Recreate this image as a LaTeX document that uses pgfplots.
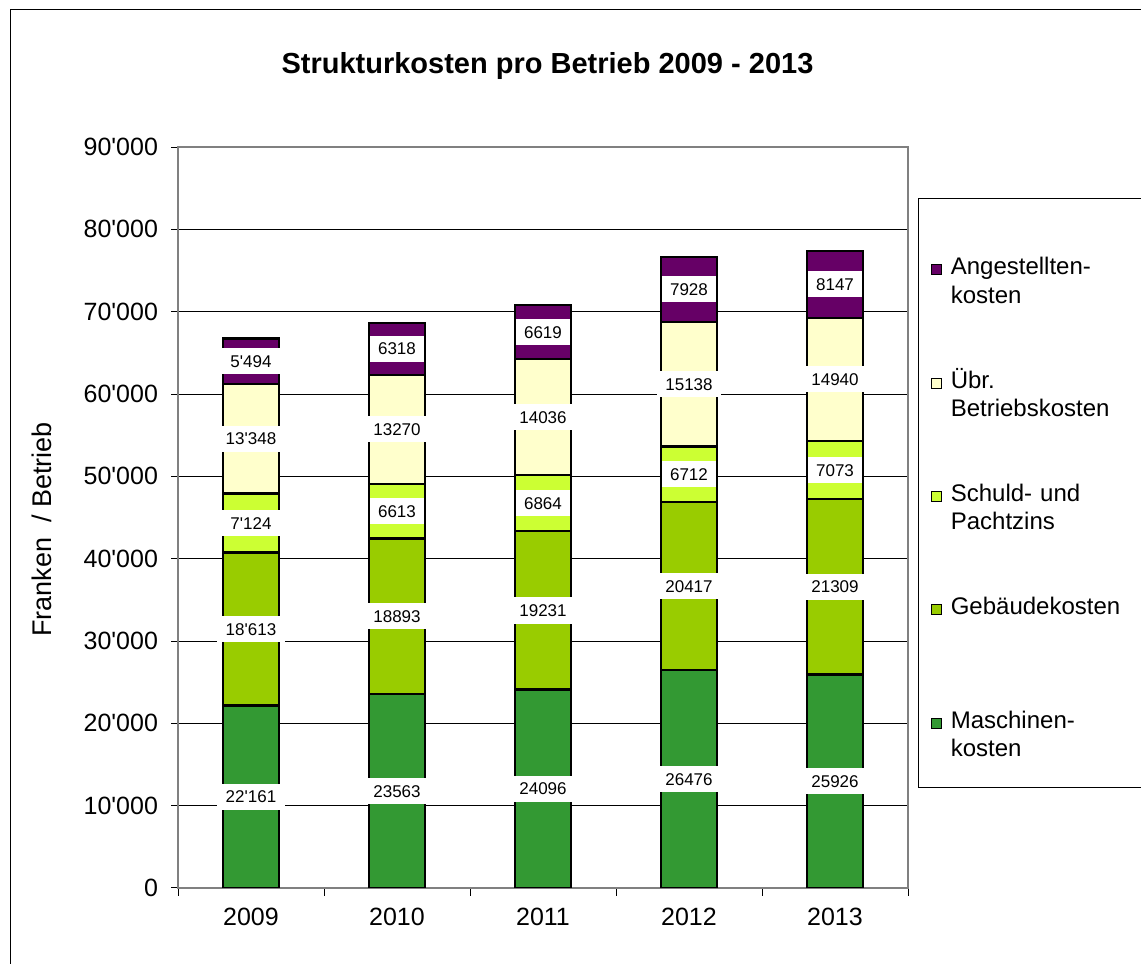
\documentclass[border=0pt]{standalone}
\usepackage{fontspec}
\usepackage{pgfplots}
\usepackage{pgfplotstable}
\pgfplotsset{compat=1.18}
\newfontfamily\arial{Liberation Sans}

\definecolor{cMasch}{HTML}{339933}
\definecolor{cGeb}{HTML}{99CC00}
\definecolor{cSchuld}{HTML}{CCFF33}
\definecolor{cUebr}{HTML}{FFFFCC}
\definecolor{cAng}{HTML}{660066}

% Strukturkosten pro Betrieb in Franken; l* = Beschriftung
\pgfplotstableread{
x  m     g     s    u     a    lm     lg     ls    lu     la
0  22161 18613 7124 13348 5494 22'161 18'613 7'124 13'348 5'494
1  23563 18893 6613 13270 6318 23563  18893  6613  13270  6318
2  24096 19231 6864 14036 6619 24096  19231  6864  14036  6619
3  26476 20417 6712 15138 7928 26476  20417  6712  15138  7928
4  25926 21309 7073 14940 8147 25926  21309  7073  14940  8147
}\kosten

\pgfplotsset{
  bars axis/.style={
    at={(89pt,38pt)}, anchor=south west,
    scale only axis, width=365pt, height=370.5pt,
    xmin=-0.5, xmax=4.5, ymin=0, ymax=90000,
  },
}
% one legend line: image style, text
\newcommand\legrow[2]{\addlegendimage{#1}\addlegendentry{#2}}
\newcommand\leggap{\legrow{empty legend}{\mbox{}}}

\begin{document}
\begin{tikzpicture}[x=1pt,y=1pt]
\useasboundingbox (0,0) rectangle (570.5,482);
\draw[black, line width=0.5pt] (5,0) -- (5,477) -- (570.5,477);

\begin{axis}[
  bars axis,
  ybar stacked, bar width=28pt,
  axis line style={gray, line width=1.2pt},
  ymajorgrids, grid style={black, line width=0.5pt},
  tick align=outside, xtick pos=bottom, ytick pos=left,
  tick style={black, line width=0.5pt},
  major tick length=3.5pt, minor tick length=4pt,
  ytick={0,10000,...,90000},
  scaled y ticks=false,
  yticklabel style={font=\fontsize{12.5}{15}\arial, xshift=-3pt,
    /pgf/number format/.cd, fixed, 1000 sep={'}, assume math mode=true},
  xtick={0,...,4}, xticklabels={2009,2010,2011,2012,2013},
  major x tick style={draw=none},
  minor xtick={-0.5,0.5,...,4.5},
  xticklabel style={font=\fontsize{12.5}{15}\arial, yshift=-3pt},
]
\addplot[fill=cMasch, draw=black, line width=1.2pt] table[x=x, y=m] {\kosten};
\addplot[fill=cGeb, draw=black, line width=1.2pt] table[x=x, y=g] {\kosten};
\addplot[fill=cSchuld, draw=black, line width=1.2pt] table[x=x, y=s] {\kosten};
\addplot[fill=cUebr, draw=black, line width=1.2pt] table[x=x, y=u] {\kosten};
\addplot[fill=cAng, draw=black, line width=1.2pt] table[x=x, y=a] {\kosten};
\end{axis}

\begin{axis}[
  bars axis, hide axis,
  nodes near coords, point meta=explicit symbolic,
  every node near coord/.append style={anchor=center, fill=white, text=black,
    inner xsep=4.25pt, inner ysep=3.5pt, text height=6.1pt, text depth=0pt,
    font=\fontsize{8.5}{10}\arial},
  legend image code/.code={\draw[#1, draw=black, line width=0.6pt] (0pt,0pt) rectangle (5pt,5pt);},
  legend style={at={(1.0137,0.931)}, anchor=north west, draw=black, line width=0.6pt,
    inner xsep=6pt, inner ysep=12pt, row sep=-1.125pt, column sep=2.5pt,
    font=\fontsize{12}{14}\arial,
    cells={anchor=base west, text width=93pt, align=left, inner sep=0pt,
      text height=9.8pt, text depth=4.2pt}},
]
\leggap
\legrow{fill=cAng}{Angestellten-}
\legrow{empty legend}{kosten}
\leggap \leggap
\legrow{fill=cUebr}{Übr.}
\legrow{empty legend}{Betriebskosten}
\leggap \leggap
\legrow{fill=cSchuld}{Schuld- und}
\legrow{empty legend}{Pachtzins}
\leggap \leggap
\legrow{fill=cGeb}{Gebäudekosten}
\leggap
\leggap \leggap
\legrow{fill=cMasch}{Maschinen-}
\legrow{empty legend}{kosten}
\addplot[draw=none, mark=none] table[x=x, y expr=\thisrow{m}/2, meta=lm] {\kosten};
\addplot[draw=none, mark=none] table[x=x, y expr=\thisrow{m}+\thisrow{g}/2, meta=lg] {\kosten};
\addplot[draw=none, mark=none] table[x=x, y expr=\thisrow{m}+\thisrow{g}+\thisrow{s}/2, meta=ls] {\kosten};
\addplot[draw=none, mark=none] table[x=x, y expr=\thisrow{m}+\thisrow{g}+\thisrow{s}+\thisrow{u}/2, meta=lu] {\kosten};
\addplot[draw=none, mark=none] table[x=x, y expr=\thisrow{m}+\thisrow{g}+\thisrow{s}+\thisrow{u}+\thisrow{a}/2, meta=la] {\kosten};
\end{axis}

\node[font=\fontsize{14.5}{17}\arial\bfseries, anchor=base] at (273.75,445) {Strukturkosten pro Betrieb 2009 - 2013};
\node[font=\fontsize{13.5}{16}\arial, rotate=90, anchor=center] at (21,217.25) {Franken\ \ / Betrieb};
\end{tikzpicture}
\end{document}
